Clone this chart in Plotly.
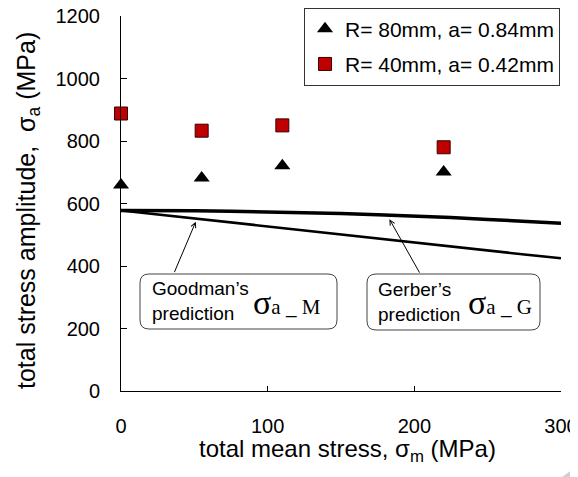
import plotly.graph_objects as go

# ---- data ----
sm_tests = [0, 55, 110, 220]
sa_R80 = [659, 682, 721, 701]
sa_R40 = [888, 833, 850, 780]

sm_pred = [0, 25, 50, 75, 100, 125, 150, 175, 200, 225, 250, 275, 300]
sa_goodman = [578, 565, 552, 540, 527, 514, 501, 488, 476, 463, 450, 437, 425]
sa_gerber = [578, 578, 577, 575, 573, 571, 568, 564, 560, 555, 549, 543, 537]

name_R80 = "R= 80mm, a= 0.84mm"
name_R40 = "R= 40mm, a= 0.42mm"

x_ticks = [0, 100, 200, 300]
y_ticks = [0, 200, 400, 600, 800, 1000, 1200]

FONT = "Liberation Sans, Arial, sans-serif"
SERIF = "Liberation Serif, Times New Roman, serif"

# page body has an 8px margin: work in screen pixels, shift into figure pixels
OFF = 8
W, H = 578 - OFF, 477 - OFF
# plot area in screen pixels
L, R, T, B = 121, 561, 16, 391


def px(xp):
    return (xp - L) / (R - L)


def py(yp):
    return (B - yp) / (B - T)


def rounded_rect(x0, y0, x1, y1, r):
    rx = r / (R - L)
    ry = r / (B - T)
    X0, X1 = px(x0), px(x1)
    Y0, Y1 = py(y1), py(y0)  # bottom, top in paper
    return (f"M{X0+rx},{Y1} L{X1-rx},{Y1} Q{X1},{Y1} {X1},{Y1-ry} "
            f"L{X1},{Y0+ry} Q{X1},{Y0} {X1-rx},{Y0} L{X0+rx},{Y0} "
            f"Q{X0},{Y0} {X0},{Y0+ry} L{X0},{Y1-ry} Q{X0},{Y1} {X0+rx},{Y1} Z")


fig = go.Figure()

fig.add_trace(go.Scatter(x=sm_pred, y=sa_gerber, mode="lines",
                         line=dict(color="black", width=3.5), showlegend=False))
fig.add_trace(go.Scatter(x=sm_pred, y=sa_goodman, mode="lines",
                         line=dict(color="black", width=2.5), showlegend=False))

fig.add_trace(go.Scatter(x=sm_tests, y=sa_R80, mode="markers", name=name_R80,
                         legendgroup="a", cliponaxis=False,
                         marker=dict(symbol="triangle-up", size=14, color="black")))
fig.add_trace(go.Scatter(x=sm_tests, y=sa_R40, mode="markers", name=name_R40,
                         legendgroup="b", cliponaxis=False,
                         marker=dict(symbol="square", size=13, color="#c00000",
                                     line=dict(color="#3a0000", width=1))))

fig.update_layout(
    width=W, height=H,
    margin=dict(l=L - OFF, r=W - (R - OFF), t=T - OFF, b=H - (B - OFF), autoexpand=False),
    paper_bgcolor="white", plot_bgcolor="white",
    font=dict(family=FONT, size=20, color="black"),
    showlegend=True,
    legend=dict(x=px(304), y=py(7.5), xanchor="left", yanchor="top",
                bordercolor="#333333", borderwidth=1, bgcolor="white",
                font=dict(size=21), traceorder="grouped", tracegroupgap=5,
                itemwidth=30),
    xaxis=dict(range=[0, 300], tickvals=x_ticks, ticks="inside", ticklen=5,
               tickcolor="black", showline=True, linecolor="black", linewidth=1,
               showgrid=False, zeroline=False, ticklabelstandoff=17,
               ticklabeloverflow="allow"),
    yaxis=dict(range=[0, 1200], tickvals=y_ticks, ticks="inside", ticklen=6,
               tickcolor="black", showline=True, linecolor="black", linewidth=1,
               showgrid=False, zeroline=False, ticklabelstandoff=16,
               ticklabeloverflow="allow"),
)

shapes = [
    dict(type="path", xref="paper", yref="paper",
         path=rounded_rect(140, 274, 337, 329, 9),
         line=dict(color="#444444", width=1), fillcolor="white"),
    dict(type="path", xref="paper", yref="paper",
         path=rounded_rect(367, 274, 540, 330, 9),
         line=dict(color="#444444", width=1), fillcolor="white"),
    dict(type="path", xref="paper", yref="paper",
         path=f"M{px(562)},{py(477)} L{px(580)},{py(464)} L{px(580)},{py(477)} Z",
         line=dict(width=0), fillcolor="#d0d0d0"),
]
fig.update_layout(shapes=shapes)

ann = [
    # axis titles
    dict(xref="paper", yref="paper", x=px(347), y=py(451), showarrow=False,
         text="total mean stress, σ<sub>m</sub> (MPa)", xanchor="center", yanchor="middle",
         font=dict(size=24)),
    dict(xref="paper", yref="paper", x=px(28), y=py(211), showarrow=False, textangle=-90,
         text="total stress amplitude,  σ<sub>a</sub> (MPa)", xanchor="center", yanchor="middle",
         font=dict(size=25)),
    # box texts
    dict(xref="paper", yref="paper", x=px(150), y=py(301), showarrow=False,
         text="Goodman’s<br>prediction", xanchor="left", yanchor="middle", align="left",
         font=dict(size=19)),
    dict(xref="paper", yref="paper", x=px(251), y=py(302), showarrow=False,
         text="<span style='font-size:34px'>σ</span><span style='font-size:21px'>a _ M</span>",
         xanchor="left", yanchor="middle", font=dict(family=SERIF, size=21)),
    dict(xref="paper", yref="paper", x=px(376), y=py(302), showarrow=False,
         text="Gerber’s<br>prediction", xanchor="left", yanchor="middle", align="left",
         font=dict(size=19)),
    dict(xref="paper", yref="paper", x=px(466), y=py(302), showarrow=False,
         text="<span style='font-size:34px'>σ</span><span style='font-size:21px'>a _ G</span>",
         xanchor="left", yanchor="middle", font=dict(family=SERIF, size=21)),
    # arrows
    dict(x=51, y=542, xref="x", yref="y", text="", showarrow=True, ax=-22, ay=52,
         arrowhead=5, arrowsize=1, arrowwidth=1, arrowcolor="black"),
    dict(x=183, y=550, xref="x", yref="y", text="", showarrow=True, ax=31, ay=55,
         arrowhead=5, arrowsize=1, arrowwidth=1, arrowcolor="black"),
]
fig.update_layout(annotations=ann)

fig.write_html("out.html")
